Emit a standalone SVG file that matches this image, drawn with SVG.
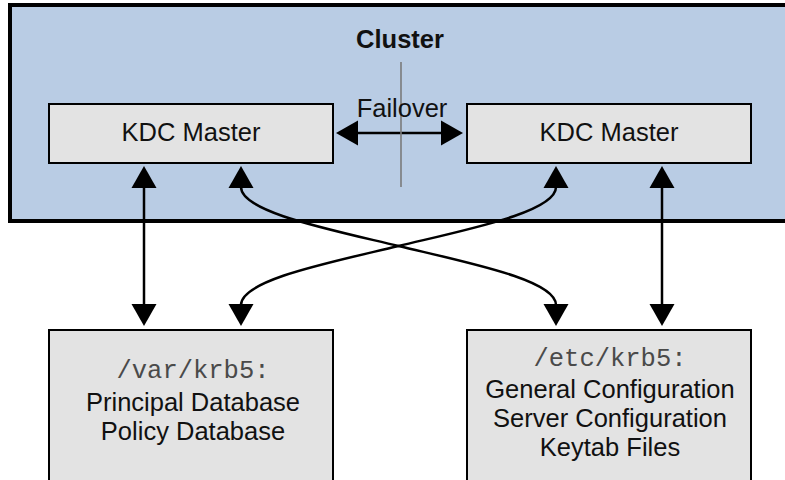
<svg xmlns="http://www.w3.org/2000/svg" width="785" height="480" viewBox="0 0 785 480">
  <style>
    .box { fill: #e3e3e3; stroke: #000; stroke-width: 2; }
    .cluster { fill: #b9cce4; stroke: #000; stroke-width: 4; }
    .lbl { font-family: "Liberation Sans", Arial, Helvetica, sans-serif; font-size: 25.5px; fill: #111; text-anchor: middle; }
    .title { font-weight: bold; }
    .mono { font-family: "Liberation Mono", "Courier New", monospace; font-size: 25.5px; fill: #4a4a4a; text-anchor: middle; }
    .conn { fill: none; stroke: #000; stroke-width: 2.5; marker-start: url(#head); marker-end: url(#head); }
    .divider { stroke: #7a7a7a; stroke-width: 1.6; }
  </style>
  <defs>
    <marker id="head" markerUnits="userSpaceOnUse" markerWidth="24" markerHeight="26" refX="1" refY="13" orient="auto-start-reverse" overflow="visible">
      <path d="M0,0.5 L22,13 L0,25.5 Z" fill="#000"/>
    </marker>
  </defs>

  <!-- cluster container -->
  <g id="cluster">
    <rect class="cluster" x="10" y="5" width="800" height="216"/>
    <text class="lbl title" x="400" y="48">Cluster</text>
  </g>

  <!-- KDC masters -->
  <g id="kdc-left">
    <rect class="box" x="49" y="104" width="284" height="59"/>
    <text class="lbl" x="191" y="141">KDC Master</text>
  </g>
  <g id="kdc-right">
    <rect class="box" x="467" y="104" width="284" height="59"/>
    <text class="lbl" x="609" y="141">KDC Master</text>
  </g>

  <!-- storage -->
  <g id="var-krb5">
    <rect class="box" x="49" y="330" width="284" height="170"/>
    <text class="mono" x="193" y="378">/var/krb5:</text>
    <text class="lbl" x="193" y="411">Principal Database</text>
    <text class="lbl" x="193" y="440">Policy Database</text>
  </g>
  <g id="etc-krb5">
    <rect class="box" x="467" y="330" width="284" height="170"/>
    <text class="mono" x="610" y="366">/etc/krb5:</text>
    <text class="lbl" x="610" y="398">General Configuration</text>
    <text class="lbl" x="610" y="427">Server Configuration</text>
    <text class="lbl" x="610" y="456">Keytab Files</text>
  </g>

  <!-- connectors -->
  <g id="connectors">
    <line class="conn" x1="357" y1="133" x2="442" y2="133"/>
    <line class="conn" x1="144" y1="187" x2="144" y2="305"/>
    <line class="conn" x1="662" y1="187" x2="662" y2="305"/>
    <path class="conn" d="M241,187 C241,212 328.5,229.2 398.5,246 S556,280 556,305"/>
    <path class="conn" d="M556,187 C556,212 468.5,229.2 398.5,246 S241,280 241,305"/>
  </g>

  <!-- failover divider and label -->
  <g id="failover">
    <line class="divider" x1="401" y1="62" x2="401" y2="187"/>
    <text class="lbl" x="402" y="117">Failover</text>
  </g>
</svg>
